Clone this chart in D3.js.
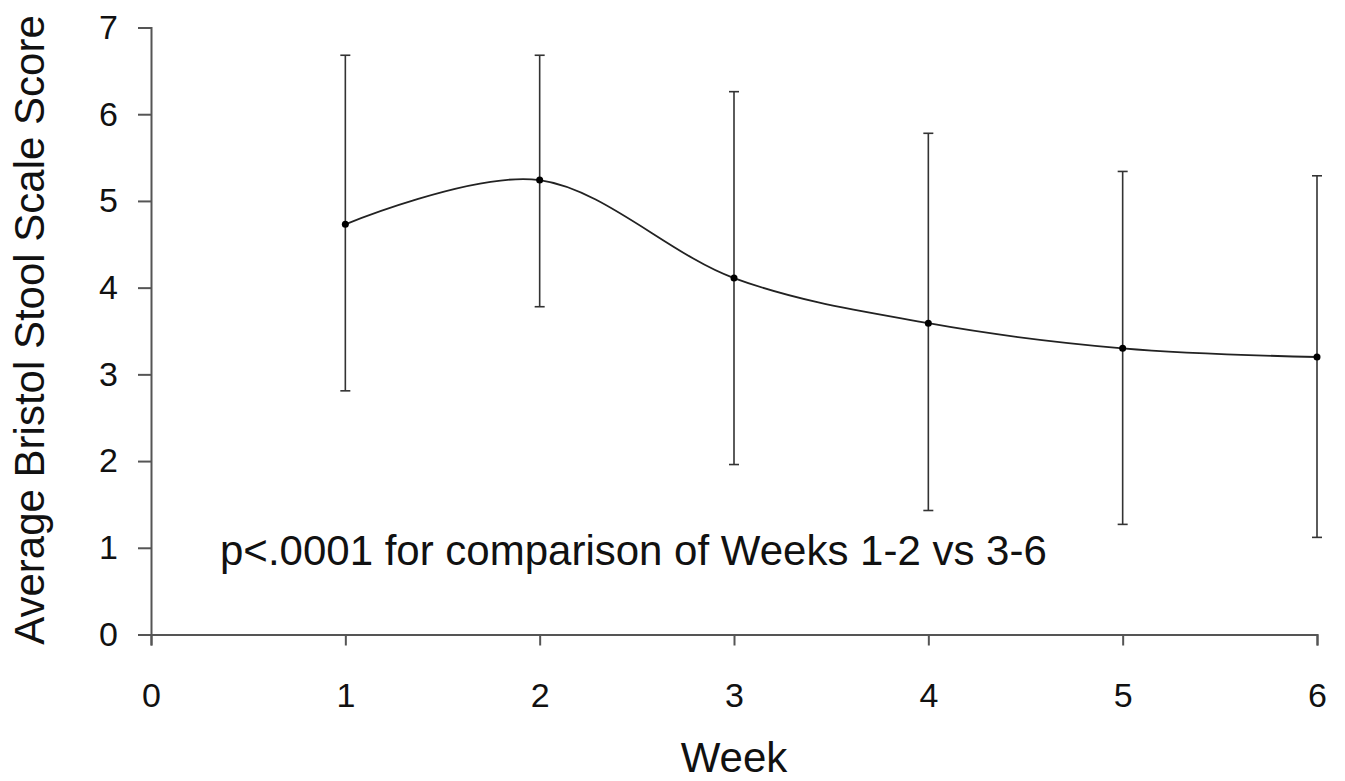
<!DOCTYPE html>
<html>
<head>
<meta charset="utf-8">
<script src="https://cdn.jsdelivr.net/npm/d3@7"></script>
<style>
  body { margin: 0; background: #fff; }
  svg text { font-family: "Liberation Sans", Arial, sans-serif; fill: #111; }
</style>
</head>
<body>
<svg id="chart" width="1345" height="781"></svg>
<script>
// weekly averages with error bar ends
const weeks = [1, 2, 3, 4, 5, 6];
const means = [4.73, 5.24, 4.11, 3.59, 3.30, 3.20];
const upper = [6.68, 6.68, 6.26, 5.78, 5.34, 5.29];
const lower = [2.81, 3.78, 1.96, 1.43, 1.27, 1.12];
const xTicks = [0, 1, 2, 3, 4, 5, 6];
const yTicks = [0, 1, 2, 3, 4, 5, 6, 7];
const note = 'p<.0001 for comparison of Weeks 1-2 vs 3-6';

const svg = d3.select('#chart');

const x = d3.scaleLinear().domain([0, 6]).range([151, 1317]);
const y = d3.scaleLinear().domain([0, 7]).range([634.5, 27.5]);

const points = weeks.map((w, i) => ({ week: w, mean: means[i], hi: upper[i], lo: lower[i] }));

// y axis
const yAxis = svg.append('g')
    .attr('transform', `translate(${x(0)},0)`)
    .call(d3.axisLeft(y).tickValues(yTicks).tickSize(13).tickPadding(20).tickFormat(d3.format('d')));
yAxis.select('.domain').attr('stroke', '#555').attr('stroke-width', 2);
yAxis.selectAll('.tick line').attr('stroke', '#555').attr('stroke-width', 2);
yAxis.selectAll('.tick text').style('font-size', '34px').attr('fill', '#111');

// x axis
const xAxis = svg.append('g')
    .attr('transform', `translate(0,${y(0)})`)
    .call(d3.axisBottom(x).tickValues(xTicks).tickSize(11).tickPadding(37).tickFormat(d3.format('d')));
xAxis.select('.domain').attr('stroke', '#555').attr('stroke-width', 2);
xAxis.selectAll('.tick line').attr('stroke', '#555').attr('stroke-width', 2);
xAxis.selectAll('.tick text').style('font-size', '34px').attr('fill', '#111');

// error bars
const bars = svg.append('g').attr('stroke', '#333').attr('stroke-width', 1.6);
bars.selectAll('line.whisker')
    .data(points)
    .enter().append('line')
    .attr('class', 'whisker')
    .attr('x1', d => x(d.week)).attr('x2', d => x(d.week))
    .attr('y1', d => y(d.hi)).attr('y2', d => y(d.lo));
bars.selectAll('line.cap-hi')
    .data(points)
    .enter().append('line')
    .attr('class', 'cap-hi')
    .attr('x1', d => x(d.week) - 5).attr('x2', d => x(d.week) + 5)
    .attr('y1', d => y(d.hi)).attr('y2', d => y(d.hi));
bars.selectAll('line.cap-lo')
    .data(points)
    .enter().append('line')
    .attr('class', 'cap-lo')
    .attr('x1', d => x(d.week) - 5).attr('x2', d => x(d.week) + 5)
    .attr('y1', d => y(d.lo)).attr('y2', d => y(d.lo));

// smoothed mean line
const line = d3.line()
    .x(d => x(d.week))
    .y(d => y(d.mean))
    .curve(d3.curveCardinal.tension(0));
svg.append('path')
    .datum(points)
    .attr('fill', 'none')
    .attr('stroke', '#222')
    .attr('stroke-width', 1.8)
    .attr('d', line);

svg.append('g')
    .selectAll('circle')
    .data(points)
    .enter().append('circle')
    .attr('cx', d => x(d.week))
    .attr('cy', d => y(d.mean))
    .attr('r', 3.5)
    .attr('fill', '#000');

// annotation
svg.append('text')
    .attr('x', 220)
    .attr('y', 565)
    .style('font-size', '42px')
    .text(note);

// axis titles
svg.append('text')
    .attr('x', x(3))
    .attr('y', 772)
    .attr('text-anchor', 'middle')
    .style('font-size', '42px')
    .text('Week');

svg.append('text')
    .attr('transform', `translate(44,330) rotate(-90)`)
    .attr('text-anchor', 'middle')
    .style('font-size', '42px')
    .text('Average Bristol Stool Scale Score');
</script>
</body>
</html>
